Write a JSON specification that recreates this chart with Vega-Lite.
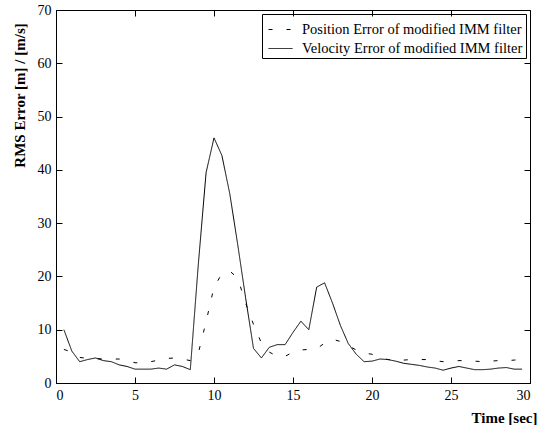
{
  "$schema": "https://vega.github.io/schema/vega-lite/v6.json",
  "width": 474,
  "height": 373,
  "autosize": {"type": "none"},
  "padding": {"left": 56, "top": 10, "right": 10, "bottom": 42},
  "background": "white",
  "config": {
    "view": {"stroke": "black", "strokeWidth": 1},
    "font": "Liberation Serif",
    "axis": {
      "labelFont": "Liberation Serif",
      "labelFontSize": 14,
      "labelColor": "black",
      "titleFont": "Liberation Serif",
      "titleColor": "black",
      "titleFontWeight": "bold",
      "titleFontSize": 15,
      "domainColor": "black",
      "grid": false
    }
  },
  "data": {
    "values": [
      {"t": 0.5, "series": "Position Error of modified IMM filter", "v": 6.3},
      {"t": 1.0, "series": "Position Error of modified IMM filter", "v": 5.8},
      {"t": 1.5, "series": "Position Error of modified IMM filter", "v": 4.8},
      {"t": 2.0, "series": "Position Error of modified IMM filter", "v": 4.6},
      {"t": 2.5, "series": "Position Error of modified IMM filter", "v": 4.6},
      {"t": 3.0, "series": "Position Error of modified IMM filter", "v": 4.5},
      {"t": 3.5, "series": "Position Error of modified IMM filter", "v": 4.5},
      {"t": 4.0, "series": "Position Error of modified IMM filter", "v": 4.5},
      {"t": 4.5, "series": "Position Error of modified IMM filter", "v": 4.2},
      {"t": 5.0, "series": "Position Error of modified IMM filter", "v": 3.8},
      {"t": 5.5, "series": "Position Error of modified IMM filter", "v": 3.8},
      {"t": 6.0, "series": "Position Error of modified IMM filter", "v": 4.0},
      {"t": 6.5, "series": "Position Error of modified IMM filter", "v": 4.3},
      {"t": 7.0, "series": "Position Error of modified IMM filter", "v": 4.6},
      {"t": 7.5, "series": "Position Error of modified IMM filter", "v": 4.7},
      {"t": 8.0, "series": "Position Error of modified IMM filter", "v": 4.5},
      {"t": 8.5, "series": "Position Error of modified IMM filter", "v": 4.2},
      {"t": 9.0, "series": "Position Error of modified IMM filter", "v": 5.5},
      {"t": 9.5, "series": "Position Error of modified IMM filter", "v": 11.5},
      {"t": 10.0, "series": "Position Error of modified IMM filter", "v": 18},
      {"t": 10.5, "series": "Position Error of modified IMM filter", "v": 20.5},
      {"t": 11.0, "series": "Position Error of modified IMM filter", "v": 21},
      {"t": 11.5, "series": "Position Error of modified IMM filter", "v": 19.7},
      {"t": 12.0, "series": "Position Error of modified IMM filter", "v": 15},
      {"t": 12.5, "series": "Position Error of modified IMM filter", "v": 11},
      {"t": 13.0, "series": "Position Error of modified IMM filter", "v": 7.5},
      {"t": 13.5, "series": "Position Error of modified IMM filter", "v": 5.8},
      {"t": 14.0, "series": "Position Error of modified IMM filter", "v": 5.0},
      {"t": 14.5, "series": "Position Error of modified IMM filter", "v": 5.0},
      {"t": 15.0, "series": "Position Error of modified IMM filter", "v": 5.8},
      {"t": 15.5, "series": "Position Error of modified IMM filter", "v": 6.2},
      {"t": 16.0, "series": "Position Error of modified IMM filter", "v": 6.3},
      {"t": 16.5, "series": "Position Error of modified IMM filter", "v": 6.4},
      {"t": 17.0, "series": "Position Error of modified IMM filter", "v": 7.5},
      {"t": 17.5, "series": "Position Error of modified IMM filter", "v": 8.2},
      {"t": 18.0, "series": "Position Error of modified IMM filter", "v": 7.8},
      {"t": 18.5, "series": "Position Error of modified IMM filter", "v": 7.0},
      {"t": 19.0, "series": "Position Error of modified IMM filter", "v": 6.2},
      {"t": 19.5, "series": "Position Error of modified IMM filter", "v": 5.6},
      {"t": 20.0, "series": "Position Error of modified IMM filter", "v": 5.4},
      {"t": 20.5, "series": "Position Error of modified IMM filter", "v": 4.8},
      {"t": 21.0, "series": "Position Error of modified IMM filter", "v": 4.4},
      {"t": 21.5, "series": "Position Error of modified IMM filter", "v": 4.3},
      {"t": 22.0, "series": "Position Error of modified IMM filter", "v": 4.3},
      {"t": 22.5, "series": "Position Error of modified IMM filter", "v": 4.4},
      {"t": 23.0, "series": "Position Error of modified IMM filter", "v": 4.4},
      {"t": 23.5, "series": "Position Error of modified IMM filter", "v": 4.4},
      {"t": 24.0, "series": "Position Error of modified IMM filter", "v": 4.2},
      {"t": 24.5, "series": "Position Error of modified IMM filter", "v": 4.0},
      {"t": 25.0, "series": "Position Error of modified IMM filter", "v": 4.1},
      {"t": 25.5, "series": "Position Error of modified IMM filter", "v": 4.2},
      {"t": 26.0, "series": "Position Error of modified IMM filter", "v": 4.2},
      {"t": 26.5, "series": "Position Error of modified IMM filter", "v": 4.1},
      {"t": 27.0, "series": "Position Error of modified IMM filter", "v": 4.0},
      {"t": 27.5, "series": "Position Error of modified IMM filter", "v": 4.1},
      {"t": 28.0, "series": "Position Error of modified IMM filter", "v": 4.2},
      {"t": 28.5, "series": "Position Error of modified IMM filter", "v": 4.2},
      {"t": 29.0, "series": "Position Error of modified IMM filter", "v": 4.3},
      {"t": 29.5, "series": "Position Error of modified IMM filter", "v": 4.4},
      {"t": 0.5, "series": "Velocity Error of modified IMM filter", "v": 10},
      {"t": 1.0, "series": "Velocity Error of modified IMM filter", "v": 6},
      {"t": 1.5, "series": "Velocity Error of modified IMM filter", "v": 4},
      {"t": 2.0, "series": "Velocity Error of modified IMM filter", "v": 4.4},
      {"t": 2.5, "series": "Velocity Error of modified IMM filter", "v": 4.7},
      {"t": 3.0, "series": "Velocity Error of modified IMM filter", "v": 4.2},
      {"t": 3.5, "series": "Velocity Error of modified IMM filter", "v": 4.0},
      {"t": 4.0, "series": "Velocity Error of modified IMM filter", "v": 3.4},
      {"t": 4.5, "series": "Velocity Error of modified IMM filter", "v": 3.1},
      {"t": 5.0, "series": "Velocity Error of modified IMM filter", "v": 2.6},
      {"t": 5.5, "series": "Velocity Error of modified IMM filter", "v": 2.6},
      {"t": 6.0, "series": "Velocity Error of modified IMM filter", "v": 2.6},
      {"t": 6.5, "series": "Velocity Error of modified IMM filter", "v": 2.8},
      {"t": 7.0, "series": "Velocity Error of modified IMM filter", "v": 2.6},
      {"t": 7.5, "series": "Velocity Error of modified IMM filter", "v": 3.4},
      {"t": 8.0, "series": "Velocity Error of modified IMM filter", "v": 3.1},
      {"t": 8.5, "series": "Velocity Error of modified IMM filter", "v": 2.5},
      {"t": 9.0, "series": "Velocity Error of modified IMM filter", "v": 22},
      {"t": 9.5, "series": "Velocity Error of modified IMM filter", "v": 39.5},
      {"t": 10.0, "series": "Velocity Error of modified IMM filter", "v": 46},
      {"t": 10.5, "series": "Velocity Error of modified IMM filter", "v": 42.7},
      {"t": 11.0, "series": "Velocity Error of modified IMM filter", "v": 35.5},
      {"t": 11.5, "series": "Velocity Error of modified IMM filter", "v": 26},
      {"t": 12.0, "series": "Velocity Error of modified IMM filter", "v": 16},
      {"t": 12.5, "series": "Velocity Error of modified IMM filter", "v": 6.5},
      {"t": 13.0, "series": "Velocity Error of modified IMM filter", "v": 4.7},
      {"t": 13.5, "series": "Velocity Error of modified IMM filter", "v": 6.7},
      {"t": 14.0, "series": "Velocity Error of modified IMM filter", "v": 7.2},
      {"t": 14.5, "series": "Velocity Error of modified IMM filter", "v": 7.2},
      {"t": 15.0, "series": "Velocity Error of modified IMM filter", "v": 9.5},
      {"t": 15.5, "series": "Velocity Error of modified IMM filter", "v": 11.6},
      {"t": 16.0, "series": "Velocity Error of modified IMM filter", "v": 10},
      {"t": 16.5, "series": "Velocity Error of modified IMM filter", "v": 18},
      {"t": 17.0, "series": "Velocity Error of modified IMM filter", "v": 18.8},
      {"t": 17.5, "series": "Velocity Error of modified IMM filter", "v": 15},
      {"t": 18.0, "series": "Velocity Error of modified IMM filter", "v": 10.8},
      {"t": 18.5, "series": "Velocity Error of modified IMM filter", "v": 7.4},
      {"t": 19.0, "series": "Velocity Error of modified IMM filter", "v": 5.4},
      {"t": 19.5, "series": "Velocity Error of modified IMM filter", "v": 4.0},
      {"t": 20.0, "series": "Velocity Error of modified IMM filter", "v": 4.1},
      {"t": 20.5, "series": "Velocity Error of modified IMM filter", "v": 4.5},
      {"t": 21.0, "series": "Velocity Error of modified IMM filter", "v": 4.4},
      {"t": 21.5, "series": "Velocity Error of modified IMM filter", "v": 4.1},
      {"t": 22.0, "series": "Velocity Error of modified IMM filter", "v": 3.7},
      {"t": 22.5, "series": "Velocity Error of modified IMM filter", "v": 3.5},
      {"t": 23.0, "series": "Velocity Error of modified IMM filter", "v": 3.3},
      {"t": 23.5, "series": "Velocity Error of modified IMM filter", "v": 3.0},
      {"t": 24.0, "series": "Velocity Error of modified IMM filter", "v": 2.8},
      {"t": 24.5, "series": "Velocity Error of modified IMM filter", "v": 2.4},
      {"t": 25.0, "series": "Velocity Error of modified IMM filter", "v": 2.8},
      {"t": 25.5, "series": "Velocity Error of modified IMM filter", "v": 3.1},
      {"t": 26.0, "series": "Velocity Error of modified IMM filter", "v": 2.8},
      {"t": 26.5, "series": "Velocity Error of modified IMM filter", "v": 2.5},
      {"t": 27.0, "series": "Velocity Error of modified IMM filter", "v": 2.5},
      {"t": 27.5, "series": "Velocity Error of modified IMM filter", "v": 2.6},
      {"t": 28.0, "series": "Velocity Error of modified IMM filter", "v": 2.8},
      {"t": 28.5, "series": "Velocity Error of modified IMM filter", "v": 2.9},
      {"t": 29.0, "series": "Velocity Error of modified IMM filter", "v": 2.6},
      {"t": 29.5, "series": "Velocity Error of modified IMM filter", "v": 2.6}
    ]
  },
  "resolve": {"axis": {"x": "independent", "y": "independent"}},
  "layer": [
    {
      "mark": {"type": "line", "color": "black", "strokeWidth": 1},
      "encoding": {
        "x": {
          "field": "t", "type": "quantitative",
          "scale": {"domain": [0, 30], "nice": false},
          "axis": {"values": [0, 5, 10, 15, 20, 25, 30], "zindex": 1, "tickColor": "black", "tickSize": -6, "labelPadding": 11, "title": "Time [sec]", "titleAnchor": "end", "titleAlign": "right", "titleX": 481, "titlePadding": 8}
        },
        "y": {
          "field": "v", "type": "quantitative",
          "scale": {"domain": [0, 70], "nice": false},
          "axis": {"values": [0, 10, 20, 30, 40, 50, 60, 70], "zindex": 1, "tickColor": "black", "tickSize": -6, "labelPadding": 11, "title": "RMS Error [m] / [m/s]", "titleX": -29, "titleY": 85, "titleAlign": "center"}
        },
        "strokeDash": {
          "field": "series", "type": "nominal",
          "scale": {
            "domain": ["Position Error of modified IMM filter", "Velocity Error of modified IMM filter"],
            "range": [[4, 14], [1, 0]]
          },
          "legend": {
            "title": null,
            "orient": "top-right",
            "offset": 4,
            "strokeColor": "black",
            "fillColor": "white",
            "padding": 3,
            "labelFont": "Liberation Serif",
            "labelFontSize": 14.5,
            "labelColor": "black",
            "labelLimit": 400,
            "labelOffset": 9,
            "symbolType": "stroke",
            "symbolSize": 576,
            "symbolOffset": 3,
            "symbolStrokeColor": "black",
            "symbolStrokeWidth": 1,
            "rowPadding": -9
          }
        }
      }
    },
    {
      "mark": {"type": "line", "opacity": 0},
      "encoding": {
        "x": {
          "field": "t", "type": "quantitative",
          "scale": {"domain": [0, 30], "nice": false},
          "axis": {"orient": "top", "zindex": 1, "offset": -6, "tickSize": 6, "tickColor": "black", "domain": false, "values": [0, 5, 10, 15, 20, 25, 30], "labels": false, "title": null}
        },
        "y": {
          "field": "v", "type": "quantitative",
          "scale": {"domain": [0, 70], "nice": false},
          "axis": {"orient": "right", "zindex": 1, "offset": -6, "tickSize": 6, "tickColor": "black", "domain": false, "values": [0, 10, 20, 30, 40, 50, 60, 70], "labels": false, "title": null}
        }
      }
    }
  ]
}
